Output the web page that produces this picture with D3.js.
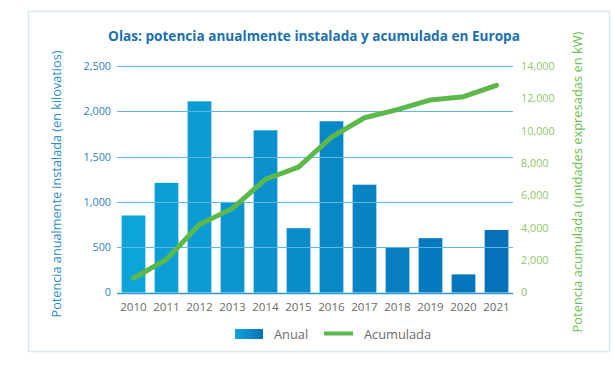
<!DOCTYPE html>
<html>
<head>
<meta charset="utf-8">
<script src="https://cdn.jsdelivr.net/npm/d3@7"></script>
<style>
  html, body { margin: 0; padding: 0; background: #ffffff; }
  svg { display: block; font-family: "Open Sans", sans-serif; }
</style>
</head>
<body>
<svg id="chart" width="614" height="368"></svg>
<script>
const years = ["2010","2011","2012","2013","2014","2015","2016","2017","2018","2019","2020","2021"];
const anual = [850, 1210, 2110, 1000, 1790, 710, 1890, 1190, 500, 600, 200, 690];
const acumulada = [880, 2050, 4200, 5200, 7000, 7750, 9600, 10800, 11300, 11900, 12100, 12800];
const leftTicks = [0, 500, 1000, 1500, 2000, 2500];
const rightTicks = [0, 2000, 4000, 6000, 8000, 10000, 12000, 14000];
const titleText = "Olas: potencia anualmente instalada y acumulada en Europa";
const leftTitle = "Potencia anualmente instalada (en kilovatios)";
const rightTitle = "Potencia acumulada (unidades expresadas en kW)";
const legendLabels = ["Anual", "Acumulada"];

const svg = d3.select("#chart");
const plot = { left: 117, right: 513, top: 66, bottom: 292.5 };

// frame
svg.append("rect")
  .attr("x", 28.5).attr("y", 11.5).attr("width", 581).attr("height", 340)
  .attr("fill", "#ffffff").attr("stroke", "#dbe8f0").attr("stroke-width", 1.5);

const x = d3.scaleBand().domain(years).range([plot.left, plot.right])
  .paddingInner(0.28).paddingOuter(0.14);
const yL = d3.scaleLinear().domain([0, 2500]).range([plot.bottom, plot.top]);
const yR = d3.scaleLinear().domain([0, 14000]).range([plot.bottom, plot.top]);
const barColor = d3.interpolateRgb("#0da4da", "#0670b8");

// gradient for legend
const defs = svg.append("defs");
const grad = defs.append("linearGradient").attr("id", "lg");
grad.append("stop").attr("offset", "0%").attr("stop-color", "#0da4da");
grad.append("stop").attr("offset", "100%").attr("stop-color", "#0670b8");

// bars
svg.append("g").selectAll("rect").data(years).join("rect")
  .attr("x", d => x(d))
  .attr("y", (d, i) => yL(anual[i]))
  .attr("width", x.bandwidth())
  .attr("height", (d, i) => yL(0) - yL(anual[i]))
  .attr("fill", (d, i) => barColor(i / (years.length - 1)));

// gridlines (drawn over bars)
svg.append("g").selectAll("line").data(leftTicks).join("line")
  .attr("x1", plot.left).attr("x2", plot.right)
  .attr("y1", d => Math.round(yL(d)) + 0.5).attr("y2", d => Math.round(yL(d)) + 0.5)
  .attr("stroke", d => d === 0 ? "#2a9ad6" : "#5cb9e2").attr("stroke-width", d => d === 0 ? 1.6 : 1.2);

// left axis labels
const leftAxis = d3.axisLeft(yL).tickValues(leftTicks).tickFormat(d3.format(",")).tickSize(0).tickPadding(0);
const gL = svg.append("g").attr("transform", `translate(${plot.left - 6},0)`).call(leftAxis);
gL.select(".domain").remove();
gL.selectAll("text").attr("fill", "#2e7fbb").style("font-size", "10.8px").style("font-family", "Open Sans");

// right axis labels
const rightAxis = d3.axisRight(yR).tickValues(rightTicks).tickFormat(d3.format(",")).tickSize(0).tickPadding(0);
const gR = svg.append("g").attr("transform", `translate(${plot.right + 8},0)`).call(rightAxis);
gR.select(".domain").remove();
gR.selectAll("text").attr("fill", "#8ec66c").style("font-size", "10.8px").style("font-family", "Open Sans");

// x axis labels
const xAxis = d3.axisBottom(x).tickSize(0).tickPadding(0);
const gX = svg.append("g").attr("transform", `translate(0,${plot.bottom + 10})`).call(xAxis);
gX.select(".domain").remove();
gX.selectAll("text").attr("fill", "#6b6b6b").style("font-size", "11.6px").style("font-family", "Open Sans");

// cumulative line
const line = d3.line().x((d, i) => x(years[i]) + x.bandwidth() / 2).y(d => yR(d));
svg.append("path").datum(acumulada)
  .attr("d", line).attr("fill", "none")
  .attr("stroke", "#5db84b").attr("stroke-width", 5)
  .attr("stroke-linecap", "round").attr("stroke-linejoin", "round");

// title
svg.append("text").attr("x", 314).attr("y", 41).attr("text-anchor", "middle")
  .attr("fill", "#1b6fae").style("font-weight", "bold").style("font-size", "13.6px")
  .text(titleText);

// axis titles
svg.append("text").attr("transform", "translate(61,184) rotate(-90)")
  .attr("text-anchor", "middle").attr("fill", "#2a8bcb").style("font-size", "12.7px")
  .text(leftTitle);
svg.append("text").attr("transform", "translate(582,182) rotate(-90)")
  .attr("text-anchor", "middle").attr("fill", "#6bbf50").style("font-size", "12.9px")
  .text(rightTitle);

// legend
svg.append("rect").attr("x", 235).attr("y", 329).attr("width", 28).attr("height", 10)
  .attr("fill", "url(#lg)");
svg.append("text").attr("x", 274).attr("y", 338.5).attr("fill", "#6b6b6b")
  .style("font-size", "12.8px").text(legendLabels[0]);
svg.append("line").attr("x1", 324).attr("x2", 353).attr("y1", 333.5).attr("y2", 333.5)
  .attr("stroke", "#5db84b").attr("stroke-width", 4);
svg.append("text").attr("x", 364).attr("y", 338.5).attr("fill", "#6b6b6b")
  .style("font-size", "12.8px").text(legendLabels[1]);
</script>
</body>
</html>
